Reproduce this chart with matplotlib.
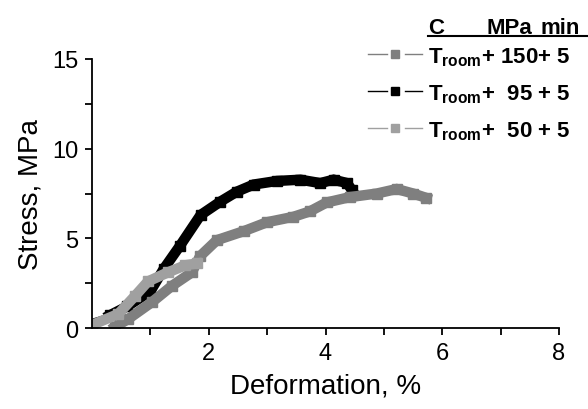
import numpy as np
import matplotlib
matplotlib.use('Agg')
import matplotlib.pyplot as plt
from matplotlib.lines import Line2D

plt.rcParams['font.family'] = ['Liberation Sans', 'DejaVu Sans']
plt.rcParams['mathtext.fontset'] = 'custom'
plt.rcParams['mathtext.rm'] = 'Liberation Sans:bold'
plt.rcParams['mathtext.bf'] = 'Liberation Sans:bold'

# T_room + 150 MPa + 5 min
x150 = [0.39, 0.62, 1.03, 1.37, 1.71, 1.85, 2.14, 2.6, 3.0, 3.45, 3.73, 4.02, 4.42, 4.88, 5.22, 5.5, 5.73]
y150 = [0.05, 0.5, 1.45, 2.35, 3.1, 4.0, 4.9, 5.4, 5.9, 6.2, 6.5, 7.0, 7.3, 7.5, 7.75, 7.5, 7.25]
# T_room + 95 MPa + 5 min
x95 = [0.0, 0.3, 0.6, 1.0, 1.23, 1.51, 1.86, 2.2, 2.48, 2.77, 3.17, 3.57, 3.91, 4.14, 4.37, 4.45]
y95 = [0.4, 0.7, 1.2, 2.05, 3.3, 4.6, 6.3, 7.05, 7.6, 8.0, 8.2, 8.27, 8.08, 8.27, 8.08, 7.7]
# T_room + 50 MPa + 5 min
x50 = [0.0, 0.45, 0.74, 0.96, 1.3, 1.6, 1.8]
y50 = [0.17, 0.78, 1.8, 2.6, 3.1, 3.5, 3.6]

labels = [r'T$_{\mathbf{room}}$+ 150+ 5',
          r'T$_{\mathbf{room}}$+  95 + 5',
          r'T$_{\mathbf{room}}$+  50 + 5']
cols = ['#7f7f7f', '#000000', '#a0a0a0']

W, H = 588, 410
fig = plt.figure(figsize=(W / 100, H / 100), dpi=100)
ax = fig.add_axes([92 / W, 1 - 329 / H, (559 - 92) / W, (329 - 60) / H])

kw = dict(marker='s', ms=7, solid_joinstyle='miter')
ax.plot(x95[:2], y95[:2], color=cols[1], lw=3)
ax.plot(x95[1:], y95[1:], color=cols[1], lw=7.5, **kw)
ax.plot(x150, y150, color=cols[0], lw=7.5, **kw)
ax.plot(x50, y50, color=cols[2], lw=7.5, **kw)

ax.set_xlim(0, 8)
ax.set_ylim(0, 15)
ax.set_xticks([2, 4, 6, 8])
ax.set_xticks([1, 3, 5, 7], minor=True)
ax.set_yticks([0, 5, 10, 15])
ax.set_yticks([2.5, 7.5, 12.5], minor=True)
for s in ['top', 'right']:
    ax.spines[s].set_visible(False)
ax.spines['left'].set_linewidth(1.3)
ax.spines['bottom'].set_linewidth(1.3)
ax.tick_params(which='major', direction='out', length=5, width=1.3, labelsize=17, pad=5)
ax.tick_params(which='minor', direction='out', length=5, width=1.3)
ax.set_xlabel('Deformation, %', fontsize=20, labelpad=6)
ax.set_ylabel('Stress, MPa', fontsize=20, labelpad=6)

# hand-made legend, positions in pixels
fx = lambda px: px / W
fy = lambda py: 1 - py / H
fs = 16
fig.text(fx(428), fy(34), 'C', fontsize=fs, fontweight='bold', ha='left', va='baseline')
fig.text(fx(487), fy(34), 'MPa', fontsize=fs, fontweight='bold', ha='left', va='baseline')
fig.text(fx(540), fy(34), 'min', fontsize=fs, fontweight='bold', ha='left', va='baseline')
fig.add_artist(Line2D([fx(428), fx(588)], [fy(37), fy(37)], color='black', lw=1.5))
for i, (lab, c) in enumerate(zip(labels, cols)):
    yb = 63 + 37 * i
    ym = yb - 8
    fig.add_artist(Line2D([fx(368), fx(387)], [fy(ym)] * 2, color=c, lw=1))
    fig.add_artist(Line2D([fx(405), fx(422)], [fy(ym)] * 2, color=c, lw=1))
    fig.add_artist(Line2D([fx(395)], [fy(ym)], color=c, marker='s', ms=6, lw=0))
    fig.text(fx(428), fy(yb), lab, fontsize=fs, fontweight='bold', ha='left', va='baseline')

fig.savefig('out.png', dpi=100)
